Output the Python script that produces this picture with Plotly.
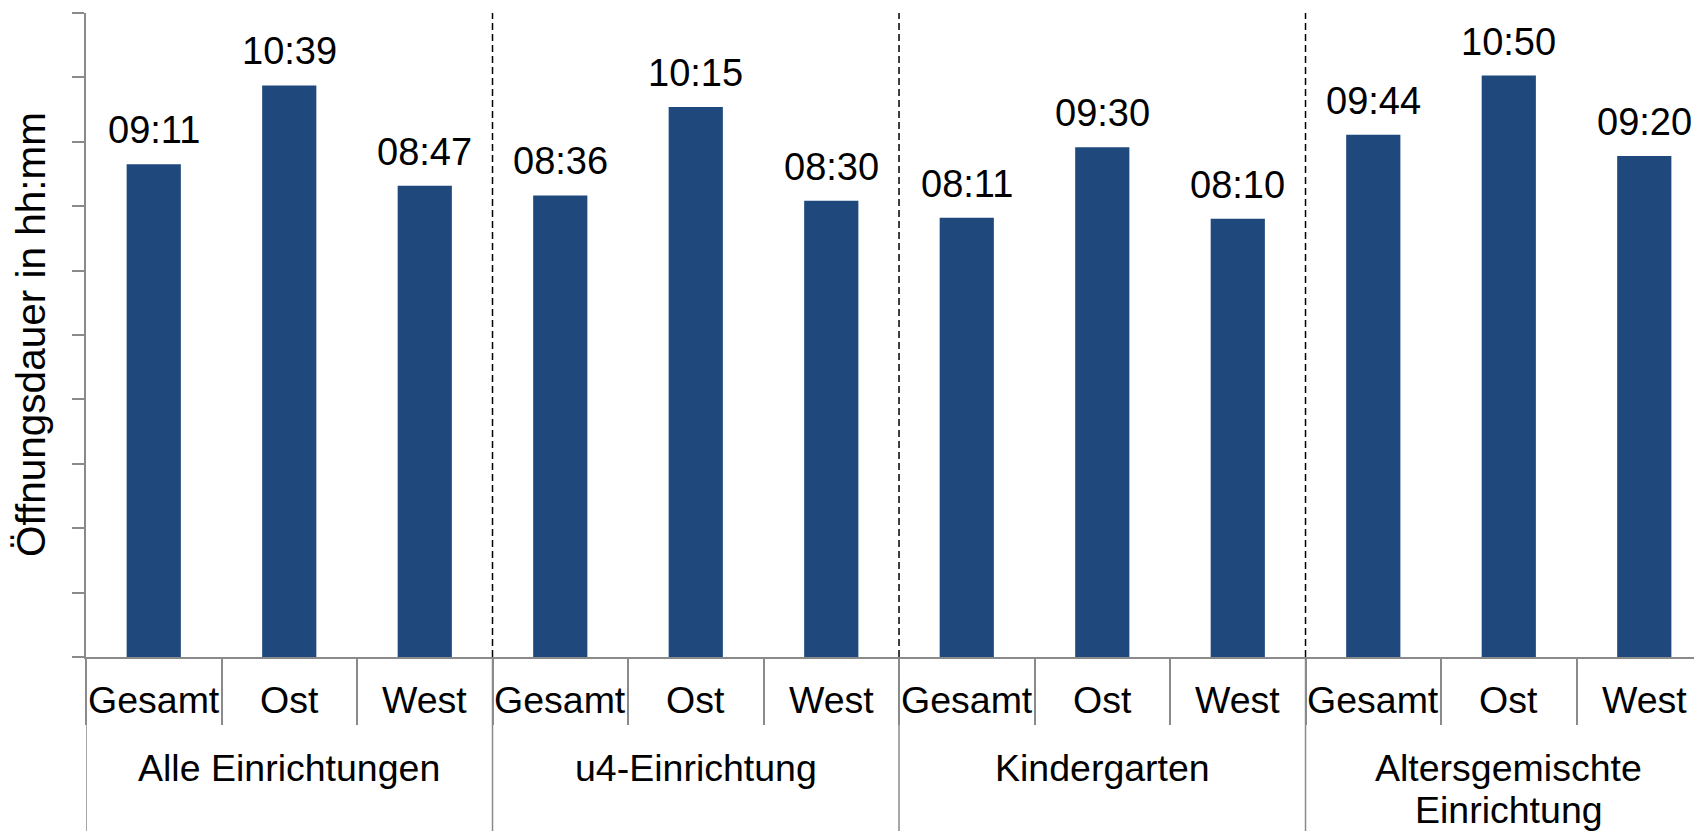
import plotly.graph_objects as go

groups = ["Alle Einrichtungen", "u4-Einrichtung", "Kindergarten", "Altersgemischte<br>Einrichtung"]
regions = ["Gesamt", "Ost", "West"]
durations = ["09:11", "10:39", "08:47",
             "08:36", "10:15", "08:30",
             "08:11", "09:30", "08:10",
             "09:44", "10:50", "09:20"]

hours = [int(d.split(":")[0]) + int(d.split(":")[1]) / 60 for d in durations]
n_sub = len(regions)
n = len(durations)
x_pos = list(range(n))
x_region = [r for _ in groups for r in regions]

FONT = "Liberation Sans, Arial, sans-serif"
BAR = "#1F497D"
GRAY = "#8a8a8a"

# layout geometry (px); the page body adds an 8px offset
W, H = 1702, 831
ML, MT, MB = 78, 5, 182
PH = H - MT - MB
X_END = 11.485

fig = go.Figure()
fig.add_trace(go.Bar(
    x=x_pos, y=hours,
    marker=dict(color=BAR, line=dict(width=0)),
    width=0.4,
    hoverinfo="skip",
))

# value labels
for i, (h, lab) in enumerate(zip(hours, durations)):
    fig.add_annotation(x=i, y=h, xref="x", yref="y", text=lab, showarrow=False,
                       yanchor="bottom", yshift=11,
                       font=dict(size=38, color="black", family=FONT))

# sub-category labels
for i, lab in enumerate(x_region):
    fig.add_annotation(x=i, y=0, xref="x", yref="paper", text=lab, showarrow=False,
                       yanchor="middle", yshift=-43,
                       font=dict(size=37.5, color="black", family=FONT))

# group labels (line by line)
for k, g in enumerate(groups):
    cx = k * n_sub + (n_sub - 1) / 2
    for j, line in enumerate(g.split("<br>")):
        fig.add_annotation(x=cx, y=0, xref="x", yref="paper", text=line, showarrow=False,
                           yanchor="middle", yshift=-111 - 42 * j,
                           font=dict(size=37.5, color="black", family=FONT))

# group dividers below axis (full height)
for k in range(len(groups) + 1):
    b = k * n_sub - 0.5
    fig.add_shape(type="line", xref="x", yref="paper", x0=b, x1=b, y0=0, y1=-MB / PH,
                  line=dict(color=GRAY, width=1.5))

# dashed separators between groups inside plot
for k in range(1, len(groups)):
    b = k * n_sub - 0.5
    fig.add_shape(type="line", xref="x", yref="y", x0=b, x1=b, y0=0, y1=12,
                  line=dict(color="black", width=1.5, dash="7px,4px"))

fig.add_annotation(xref="paper", yref="paper", x=(23 - ML) / (W - ML), y=0.5,
                   xanchor="center", yanchor="middle", textangle=-90,
                   text="Öffnungsdauer in hh:mm", showarrow=False,
                   font=dict(size=40.5, color="black", family=FONT))

fig.update_layout(
    width=W, height=H,
    margin=dict(l=ML, r=0, t=MT, b=MB, pad=0),
    plot_bgcolor="white", paper_bgcolor="white",
    showlegend=False,
    font=dict(family=FONT, size=36, color="black"),
)
fig.update_xaxes(
    range=[-0.5, X_END],
    showline=True, linecolor=GRAY, linewidth=2,
    tickmode="array", tickvals=[b - 0.5 for b in range(n + 1)],
    ticks="outside", ticklen=66, tickcolor=GRAY, tickwidth=1.5,
    showticklabels=False, showgrid=False, zeroline=False, automargin=False,
)
fig.update_yaxes(
    range=[0, 12], dtick=1.2, tick0=0,
    showline=True, linecolor=GRAY, linewidth=2,
    ticks="outside", ticklen=12, tickcolor=GRAY, tickwidth=1.5,
    showticklabels=False, showgrid=False, zeroline=False, automargin=False,
)

fig.write_html("out.html")
